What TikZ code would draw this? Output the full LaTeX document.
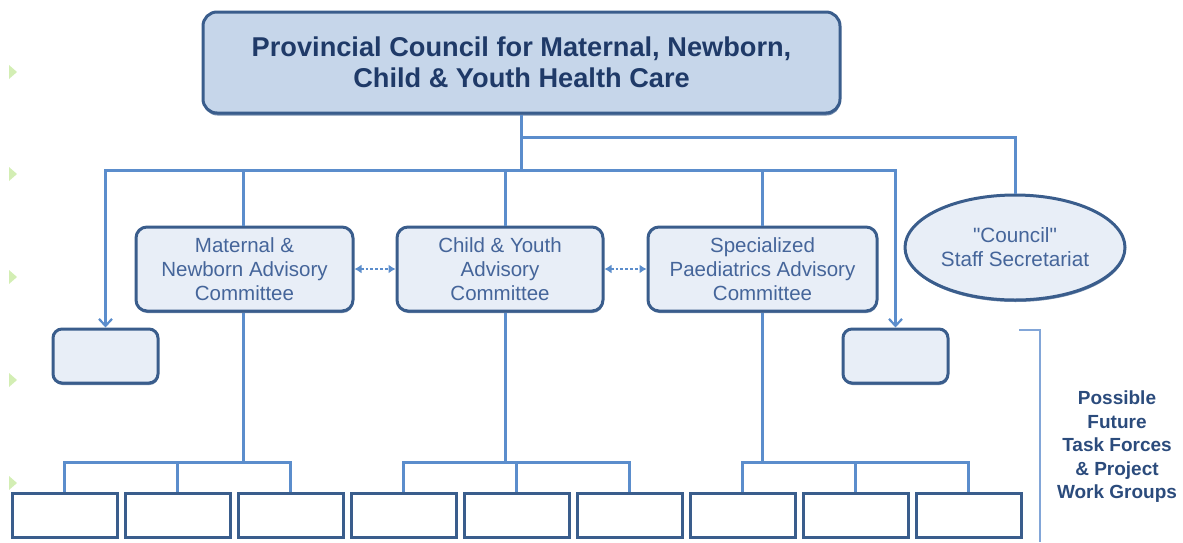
\documentclass[tikz,border=0pt]{standalone}
\usepackage{fontspec}
\setmainfont{Liberation Sans}[Ligatures=TeXOff]
\usetikzlibrary{arrows.meta,shapes.geometric,shadows}
\definecolor{navy}{HTML}{1F3A68}
\definecolor{edge}{HTML}{3A5D8C}
\definecolor{topfill}{HTML}{C6D6EA}
\definecolor{boxfill}{HTML}{E8EEF7}
\definecolor{wire}{HTML}{5B8DCC}
\definecolor{wirelt}{HTML}{82A6D8}
\definecolor{txt}{HTML}{45659A}
\definecolor{bul}{HTML}{D3EEB4}
\tikzset{
  topbox/.style={draw=edge, line width=3pt, fill=topfill, rounded corners=14pt,
    minimum width=637pt, minimum height=101pt, inner sep=0pt, align=center,
    text=navy, font=\fontsize{27.2}{31}\selectfont\bfseries,
    drop shadow={shadow xshift=0.5pt, shadow yshift=-2.5pt, fill=edge, opacity=0.7}},
  combox/.style={draw=edge, line width=3pt, fill=boxfill, rounded corners=11pt,
    minimum height=84pt, inner sep=0pt, align=center, text=txt,
    font=\fontsize{20.5}{24}\selectfont,
    drop shadow={shadow xshift=0.5pt, shadow yshift=-2pt, fill=edge, opacity=0.7}},
  smallbox/.style={draw=edge, line width=3pt, fill=boxfill, rounded corners=9pt,
    minimum width=105pt, minimum height=54pt, inner sep=0pt,
    drop shadow={shadow xshift=0.5pt, shadow yshift=-2pt, fill=edge, opacity=0.7}},
  ellbox/.style={ellipse, draw=edge, line width=3pt, fill=boxfill,
    minimum width=220pt, minimum height=105pt, inner sep=0pt, align=center,
    text=txt, font=\fontsize{20.7}{24}\selectfont,
    drop shadow={shadow xshift=0.5pt, shadow yshift=-2pt, fill=edge, opacity=0.7}},
  leafbox/.style={draw=edge, line width=3pt, fill=white,
    minimum width=105pt, minimum height=44pt, inner sep=0pt},
  wireline/.style={draw=wire, line width=3pt},
  downarrow/.style={wireline, -{Straight Barb[length=7pt,width=13pt,line width=2.2pt]}},
  peer/.style={draw=wire, line width=2.8pt, dotted,
    {Latex[length=7pt,width=9pt]}-{Latex[length=7pt,width=9pt]}},
  note/.style={align=center, text=navy!80!wire, font=\fontsize{19}{23.5}\selectfont\bfseries, inner sep=0pt},
}
\begin{document}
\begin{tikzpicture}[x=1pt,y=-1pt]
\useasboundingbox (0,0) rectangle (1183,542);
% stray bullets
\foreach \yy in {72,174,277,380,483}
  \fill[bul] (9,\yy-7) -- (17,\yy) -- (9,\yy+7) -- cycle;

\node[topbox] (top) at (521.5,62.5) {Provincial Council for Maternal, Newborn,\\Child \& Youth Health Care};

\node[combox, minimum width=217pt] (mat) at (244.5,269) {Maternal \&\\Newborn Advisory\\Committee};
\node[combox, minimum width=206pt] (chi) at (500,269) {Child \& Youth\\Advisory\\Committee};
\node[combox, minimum width=229pt] (spe) at (762.5,269) {Specialized\\Paediatrics Advisory\\Committee};

\node[smallbox] (sl) at (105.5,356) {};
\node[smallbox] (sr) at (895.5,356) {};

\node[ellbox] (sec) at (1015,247.5) {"Council"\\Staff Secretariat};

\foreach \i in {0,...,8}
  \node[leafbox] (leaf\i) at (64.5+113*\i,515) {};

\node[note] (fut) at (1117,447) {Possible\\Future\\Task Forces\\\& Project\\Work Groups};

% coordinates
\coordinate (busA) at (521.5,137);
\coordinate (busB) at (521.5,170);
\coordinate (matX) at (243,170);
\coordinate (chiX) at (505,170);
\coordinate (speX) at (762,170);
\coordinate (bk1) at (1019,330);
\coordinate (bk2) at (1040,330);
\coordinate (bk3) at (1040,542);

% top wiring
\draw[wireline] (top.south) -- (busB);
\draw[wireline] (busA) -| (sec.north);
\draw[downarrow] (busB) -| (sl.north);
\draw[downarrow] (busB) -| (sr.north);
\draw[wireline] (matX) -- (matX |- mat.north);
\draw[wireline] (chiX) -- (chiX |- chi.north);
\draw[wireline] (speX) -- (speX |- spe.north);

% peer links
\draw[peer] (mat.east) -- (chi.west);
\draw[peer] (chi.east) -- (spe.west);

% leaf wiring
\coordinate (mb) at (243,462);
\coordinate (cb) at (505,462);
\coordinate (sb) at (762,462);
\draw[wireline] (matX |- mat.south) -- (mb);
\draw[wireline] (chiX |- chi.south) -- (cb);
\draw[wireline] (speX |- spe.south) -- (sb);
\draw[wireline] (mb) -| (leaf0.north);
\draw[wireline] (mb) -| (leaf1.north);
\draw[wireline] (mb) -| (leaf2.north);
\draw[wireline] (cb) -| (leaf3.north);
\draw[wireline] (cb) -| (leaf4.north);
\draw[wireline] (cb) -| (leaf5.north);
\draw[wireline] (sb) -| (leaf6.north);
\draw[wireline] (sb) -| (leaf7.north);
\draw[wireline] (sb) -| (leaf8.north);

% bracket
\draw[draw=wirelt, line width=2.8pt] (bk1) -- (bk2) -- (bk3);
\end{tikzpicture}
\end{document}
